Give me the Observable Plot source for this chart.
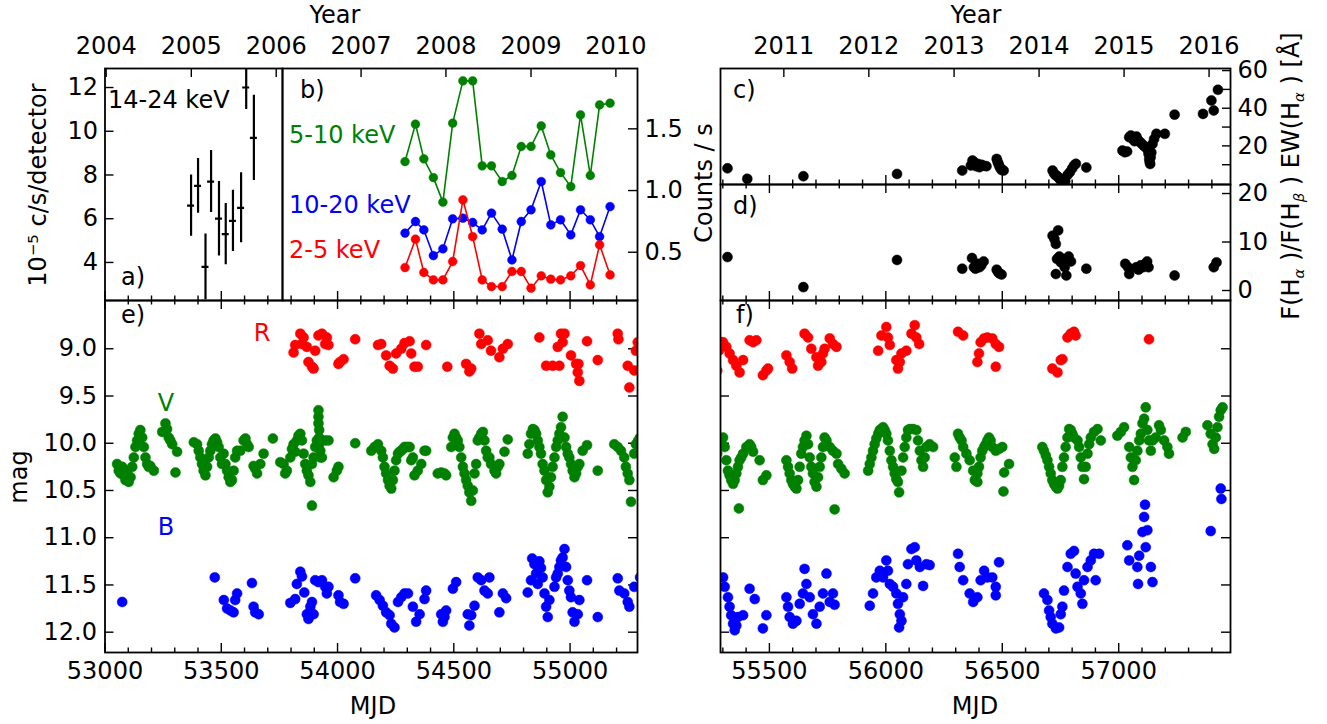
<!DOCTYPE html>
<html><head><meta charset="utf-8">
<script src="https://cdn.jsdelivr.net/npm/d3@7"></script>
<script src="https://cdn.jsdelivr.net/npm/@observablehq/plot@0.6"></script>
<style>
body{margin:0;background:#fff;}
#wrap{position:relative;width:1327px;height:724px;overflow:hidden;font-family:"DejaVu Sans";}
#wrap svg{position:absolute;left:0;top:0;}
.lbl{position:absolute;font-family:"DejaVu Sans";font-size:24px;white-space:nowrap;line-height:1;}
.lbl sub{font-size:0.62em;vertical-align:-0.28em;font-style:italic;}
.lbl sup{font-size:0.62em;vertical-align:0.55em;}
</style></head><body><div id="wrap"></div><script>
// ---------------- DATA ----------------
// panel a: 14-24 keV  [MJD, rate (1e-5 c/s/detector), error]
const hardX = [[53370,6.6,1.4],[53400,7.5,1.25],[53432,3.8,1.5],[53456,7.7,1.42],[53490,6.0,1.7],[53519,5.3,1.4],[53550,5.9,1.4],[53585,6.5,1.6],[53607,12.0,1.0],[53640,9.7,1.95]];
const hardXerrDays = 15;
// panel b: RXTE counts/s
const bMJD   = [54290,54335,54371,54412,54453,54495,54539,54581,54622,54662,54708,54750,54790,54832,54876,54917,54959,55003,55045,55087,55127,55172];
const b5_10  = [1.235,1.538,1.257,1.105,0.906,1.546,1.889,1.889,1.200,1.200,1.073,1.122,1.357,1.357,1.524,1.289,1.146,1.032,1.613,1.122,1.694,1.708];
const b10_20 = [0.655,0.749,0.681,0.473,0.528,0.771,0.776,0.741,0.681,0.817,0.687,0.438,0.749,0.844,1.073,0.722,0.763,0.641,0.844,0.763,0.627,0.870];
const b2_5   = [0.376,0.606,0.336,0.276,0.276,0.425,0.925,0.627,0.276,0.222,0.222,0.344,0.344,0.209,0.309,0.282,0.276,0.309,0.392,0.236,0.560,0.317];
const bXerrDays = 14, bYerr = 0.025;
// panel c: EW(Halpha)
const ewHa = [[55320,8.1],[55405,2.5],[55646,3.9],[56048,5.1],[56328,6.9],[56365,9.6],[56372,12.2],[56380,11.3],[56388,9.2],[56395,10.4],[56402,8.7],[56410,10.0],[56420,9.5],[56432,9.2],[56476,13.1],[56480,11.5],[56484,10.4],[56488,9.0],[56493,8.0],[56497,7.2],[56506,6.9],[56716,6.9],[56722,5.5],[56728,4.5],[56734,4.2],[56740,3.4],[56746,2.5],[56752,1.6],[56758,0.7],[56764,2.0],[56770,1.2],[56780,4.5],[56790,6.0],[56800,8.0],[56808,9.6],[56816,10.5],[56861,8.5],[57016,17.5],[57026,16.6],[57036,17.0],[57045,24.6],[57052,25.5],[57060,23.7],[57068,22.5],[57076,25.0],[57084,23.0],[57092,22.0],[57100,21.0],[57108,20.0],[57116,19.3],[57122,18.4],[57128,15.8],[57131,13.1],[57133,11.5],[57135,10.4],[57137,14.0],[57140,16.5],[57145,21.0],[57152,23.7],[57162,26.4],[57198,26.4],[57240,36.6],[57362,37.0],[57398,44.1],[57408,38.8],[57426,49.8]];
// panel d: F(Halpha)/F(Hbeta)
const balmerRatio = [[55320,6.9],[55646,0.7],[56048,6.3],[56328,4.5],[56370,6.7],[56378,4.8],[56385,4.5],[56394,5.5],[56402,4.8],[56410,5.2],[56420,6.0],[56476,4.3],[56482,3.8],[56488,3.5],[56497,3.3],[56716,11.3],[56724,10.6],[56730,9.6],[56740,12.4],[56735,6.5],[56730,3.4],[56745,7.0],[56752,5.8],[56760,6.5],[56768,4.8],[56775,3.1],[56785,7.0],[56795,6.0],[56861,4.5],[57028,5.5],[57040,4.8],[57045,3.4],[57075,4.8],[57085,4.3],[57095,5.2],[57105,4.8],[57115,5.5],[57122,6.0],[57128,4.8],[57240,3.1],[57408,4.8],[57420,5.8]];
// panels e/f: photometry [MJD, mag]
const magR = [[53811,9.04],[53818,8.96],[53840,8.84],[53847,8.95],[53854,8.88],[53868,8.98],[53875,9.14],[53890,9.19],[53897,9.21],[53904,9.02],[53918,8.86],[53933,8.84],[53947,8.95],[53954,8.88],[53961,8.96],[54004,9.16],[54011,9.14],[54026,9.11],[54076,8.90],
[54174,8.96],[54188,8.95],[54209,9.07],[54224,9.18],[54238,9.21],[54252,9.05],[54274,9.00],[54288,8.94],[54310,8.92],[54317,9.05],[54331,9.19],[54345,9.19],[54381,8.96],[54472,9.19],[54553,9.16],[54567,9.24],[54575,9.21],[54610,8.84],[54618,8.95],[54646,8.91],[54660,9.02],[54696,9.09],[54711,9.00],[54732,8.95],
[54868,8.88],[54897,9.18],[54925,9.18],[54954,9.18],[54947,8.98],[54961,8.84],[54976,8.84],[54968,8.93],[55004,9.07],[55026,9.16],[55033,9.25],[55040,9.34],[55036,9.16],[55073,8.92],[55119,9.12],[55205,8.84],[55208,8.90],[55255,9.41],[55248,9.18],[55276,9.23],[55283,9.02],[55291,8.93],
[55301,8.93],[55315,8.98],[55329,9.05],[55344,9.12],[55358,9.18],[55372,9.25],[55387,9.12],[55415,8.91],[55430,8.93],[55444,8.91],[55472,9.28],[55487,9.23],[55494,9.21],[55573,9.07],[55587,9.14],[55598,9.21],[55651,8.84],[55666,8.88],[55680,9.00],[55702,9.09],[55709,9.18],[55723,9.14],[55730,9.05],[55737,9.00],[55759,8.89],[55773,8.95],[55788,8.98],
[55967,9.02],[55981,8.86],[56002,8.77],[56009,8.88],[56017,8.96],[56045,9.12],[56052,9.21],[56060,9.14],[56067,9.05],[56088,9.02],[56110,8.84],[56124,8.75],[56131,8.88],[56143,8.95],
[56310,8.82],[56332,8.86],[56393,9.14],[56400,9.05],[56407,8.93],[56422,8.89],[56436,8.88],[56457,8.89],[56472,8.95],[56486,8.98],[56472,9.19],[56715,9.21],[56737,9.25],[56751,9.12],[56758,9.11],[56780,8.88],[56794,8.84],[56808,8.82],[56815,8.86],[57130,8.90]];
const magV = [[53052,10.22],[53059,10.29],[53067,10.32],[53074,10.25],[53081,10.34],[53088,10.39],[53095,10.29],[53102,10.41],[53110,10.36],[53117,10.25],[53124,10.15],[53131,10.04],[53138,9.97],[53145,9.90],[53152,9.86],[53160,9.94],[53167,10.04],[53174,10.15],[53181,10.22],[53188,10.25],[53195,10.24],[53210,10.29],
[53246,9.88],[53260,9.79],[53267,9.85],[53274,9.94],[53281,9.97],[53289,10.01],[53310,10.09],[53303,10.31],
[53382,9.99],[53396,10.01],[53403,10.08],[53410,10.15],[53417,10.22],[53424,10.29],[53432,10.34],[53439,10.25],[53446,10.15],[53453,10.08],[53460,10.01],[53467,9.97],[53475,9.95],[53482,9.99],[53489,10.04],[53496,10.15],[53503,10.22],[53510,10.11],[53518,10.22],[53525,10.29],[53532,10.36],[53539,10.41],[53546,10.39],[53553,10.29],[53560,10.15],[53568,10.08],[53582,10.08],[53596,9.97],[53604,9.95],[53611,10.01],[53618,10.04],[53639,10.24],[53646,10.27],[53654,10.32],[53682,10.11],[53668,10.22],[53722,9.95],
[53754,10.20],[53768,10.22],[53775,10.32],[53782,10.29],[53797,10.15],[53804,10.06],[53811,10.01],[53818,10.09],[53825,9.97],[53832,9.92],[53840,9.90],[53847,9.97],[53854,10.11],[53861,10.22],[53868,10.29],[53875,10.34],[53883,10.41],[53890,10.22],[53897,10.15],[53904,10.04],[53911,9.97],[53918,9.65],[53918,9.72],[53918,9.79],[53921,9.86],[53921,9.94],[53921,10.01],[53926,10.08],[53926,10.15],[53933,10.15],[53947,9.97],[53961,9.97],[53890,10.66],[53983,10.36],[53997,10.29],[54004,10.25],[54076,10.00],
[54145,10.08],[54159,10.04],[54174,10.01],[54188,10.08],[54195,10.15],[54202,10.25],[54209,10.32],[54217,10.39],[54224,10.45],[54231,10.48],[54238,10.39],[54245,10.29],[54252,10.18],[54260,10.11],[54267,10.09],[54274,10.08],[54281,10.06],[54288,10.04],[54295,10.04],[54303,10.04],[54310,10.04],[54317,10.18],[54324,10.15],[54331,10.34],[54345,10.29],[54360,10.22],[54374,10.08],[54381,10.08],[54431,10.32],[54446,10.31],[54460,10.32],[54467,10.34],
[54489,10.04],[54496,9.94],[54503,9.90],[54510,9.94],[54517,9.97],[54524,10.04],[54532,10.15],[54539,10.25],[54546,10.32],[54553,10.39],[54560,10.45],[54567,10.52],[54575,10.61],[54582,10.50],[54589,10.32],[54596,10.22],[54603,9.97],[54610,9.94],[54618,9.90],[54625,9.88],[54632,9.97],[54639,10.08],[54646,10.15],[54653,10.15],[54660,10.22],[54675,10.29],[54682,10.32],[54689,10.25],[54696,10.22],[54718,10.09],[54732,9.96],
[54818,10.11],[54825,10.01],[54832,9.90],[54840,9.85],[54847,9.86],[54854,9.90],[54861,9.97],[54868,10.04],[54875,10.11],[54882,10.22],[54890,10.29],[54897,10.39],[54904,10.52],[54911,10.46],[54918,10.36],[54925,10.25],[54933,10.15],[54940,10.04],[54947,9.97],[54954,9.90],[54961,9.83],[54968,9.72],[54976,9.94],[54983,10.04],[54990,10.11],[54997,10.15],[55004,10.22],[55011,10.29],[55019,10.36],[55026,10.32],[55033,10.25],[55040,10.22],[55054,10.08],[55073,10.02],[55119,10.29],
[55190,10.01],[55205,10.04],[55219,10.08],[55233,10.15],[55240,10.25],[55248,10.32],[55255,10.39],[55262,10.62],[55276,10.11],[55283,10.01],
[55293,9.97],[55301,9.94],[55308,10.04],[55315,10.18],[55322,10.29],[55329,10.34],[55336,10.39],[55344,10.43],[55351,10.39],[55358,10.32],[55365,10.25],[55372,10.18],[55379,10.15],[55387,10.11],[55401,10.04],[55415,10.01],[55422,10.04],[55430,10.09],[55458,10.18],[55472,10.39],[55487,10.34],[55369,10.69],
[55573,10.18],[55580,10.25],[55587,10.32],[55594,10.39],[55601,10.43],[55609,10.46],[55616,10.48],[55623,10.39],[55630,10.25],[55637,10.11],[55644,10.04],[55651,9.97],[55659,9.92],[55666,10.01],[55673,10.15],[55680,10.25],[55687,10.32],[55694,10.41],[55702,10.46],[55709,10.36],[55716,10.25],[55723,10.15],[55730,10.04],[55737,9.94],[55745,9.97],[55759,10.04],[55773,10.08],[55788,10.11],[55795,10.22],[55809,10.27],[55823,10.32],[55780,10.70],
[55924,10.29],[55931,10.22],[55938,10.15],[55945,10.08],[55952,10.01],[55959,9.95],[55967,9.90],[55974,9.86],[55981,9.85],[55988,9.83],[55995,9.86],[56002,9.90],[56009,9.97],[56017,10.08],[56024,10.18],[56031,10.25],[56038,10.32],[56045,10.38],[56052,10.41],[56057,10.52],[56067,10.29],[56074,10.15],[56081,10.04],[56088,9.94],[56095,9.86],[56103,9.85],[56117,9.85],[56131,9.86],[56138,9.97],[56146,10.08],[56153,10.18],[56160,10.25],[56167,10.15],[56174,10.04],[56188,10.01],[56203,10.04],
[56296,10.15],[56303,10.25],[56310,9.90],[56317,9.94],[56325,9.97],[56332,10.04],[56346,10.11],[56360,10.18],[56375,10.29],[56382,10.39],
[56393,10.32],[56400,10.25],[56407,10.15],[56414,10.08],[56422,10.04],[56429,10.01],[56436,9.97],[56443,9.94],[56450,9.97],[56457,10.04],[56472,10.08],[56486,10.06],[56500,10.04],[56508,10.31],[56529,10.22],[56505,10.51],[56393,10.41],
[56672,10.04],[56679,10.08],[56687,10.13],[56694,10.18],[56701,10.25],[56708,10.32],[56715,10.39],[56722,10.43],[56730,10.46],[56737,10.48],[56744,10.45],[56751,10.39],[56758,10.25],[56765,10.15],[56772,10.04],[56780,9.94],[56787,9.85],[56794,9.86],[56801,9.90],[56808,9.94],[56823,9.97],[56830,10.04],[56837,10.15],[56844,10.25],[56851,10.38],[56858,10.25],[56866,10.11],[56873,10.01],[56880,9.94],[56894,9.88],[56909,9.85],[56923,9.97],
[56994,9.92],[57009,9.88],[57023,9.83],[57045,10.04],[57052,10.15],[57059,10.25],[57066,10.39],[57073,10.18],[57080,10.08],[57088,9.97],[57095,9.90],[57102,9.79],[57109,9.74],[57116,9.62],[57123,9.86],[57130,9.97],[57138,10.08],[57145,9.97],[57159,9.94],[57173,9.81],[57181,9.86],[57195,9.97],[57209,10.04],[57216,10.11],[57274,9.94],[57288,9.88],[57381,9.81],[57395,9.90],[57403,10.01],[57410,10.06],[57417,9.94],[57424,9.83],[57431,9.72],[57438,9.65],[57446,9.62]];
const magB = [[53074,11.68],[53472,11.42],[53511,11.66],[53525,11.75],[53539,11.77],[53553,11.79],[53560,11.66],[53568,11.59],[53632,11.48],[53639,11.73],[53646,11.79],[53661,11.81],
[53797,11.69],[53818,11.65],[53825,11.49],[53840,11.36],[53847,11.41],[53857,11.58],[53868,11.81],[53875,11.86],[53883,11.73],[53890,11.68],[53897,11.81],[53904,11.45],[53918,11.47],[53933,11.45],[53947,11.52],[53954,11.59],[53961,11.52],[54004,11.61],[54011,11.68],[54026,11.70],[54076,11.43],
[54166,11.61],[54181,11.66],[54195,11.72],[54209,11.79],[54224,11.82],[54231,11.91],[54245,11.95],[54260,11.68],[54274,11.63],[54288,11.59],[54303,11.59],[54324,11.73],[54338,11.89],[54353,11.81],[54374,11.65],[54381,11.56],[54446,11.81],[54453,11.89],[54460,11.84],[54467,11.77],[54496,11.54],[54510,11.47],[54560,11.81],[54575,11.82],[54567,11.93],[54589,11.72],[54603,11.42],[54618,11.45],[54632,11.56],[54646,11.59],[54653,11.42],[54696,11.79],[54711,11.59],[54725,11.64],
[54818,11.58],[54832,11.45],[54837,11.22],[54847,11.28],[54854,11.38],[54861,11.49],[54868,11.25],[54875,11.32],[54882,11.42],[54890,11.59],[54897,11.73],[54904,11.84],[54911,11.66],[54933,11.52],[54940,11.42],[54947,11.38],[54954,11.31],[54961,11.24],[54968,11.21],[54976,11.12],[54983,11.31],[54990,11.45],[54997,11.56],[55004,11.63],[55011,11.79],[55019,11.89],[55033,11.81],[55040,11.66],[55073,11.45],[55119,11.84],
[55205,11.43],[55212,11.56],[55233,11.59],[55248,11.68],[55255,11.73],[55276,11.52],
[55301,11.42],[55308,11.52],[55322,11.63],[55329,11.73],[55336,11.82],[55344,11.91],[55351,11.98],[55358,11.93],[55365,11.84],[55387,11.82],[55415,11.54],[55437,11.65],[55472,11.96],[55487,11.82],
[55573,11.63],[55580,11.73],[55587,11.84],[55601,11.91],[55616,11.88],[55630,11.70],[55644,11.59],[55659,11.49],[55651,11.33],[55673,11.63],[55687,11.81],[55702,11.91],[55716,11.73],[55730,11.59],[55745,11.38],[55759,11.68],[55773,11.59],[55780,11.71],
[55931,11.72],[55945,11.59],[55959,11.42],[55974,11.35],[55988,11.42],[56002,11.24],[56009,11.35],[56017,11.49],[56031,11.52],[56045,11.59],[56052,11.70],[56060,11.81],[56067,11.88],[56057,11.95],[56074,11.63],[56088,11.49],[56095,11.28],[56110,11.12],[56124,11.10],[56131,11.24],[56146,11.31],[56160,11.51],[56174,11.28],[56188,11.29],
[56310,11.17],[56317,11.31],[56332,11.45],[56360,11.59],[56375,11.68],
[56393,11.63],[56407,11.45],[56422,11.35],[56436,11.42],[56457,11.42],[56472,11.52],[56486,11.26],[56472,11.61],
[56679,11.59],[56694,11.66],[56701,11.77],[56708,11.84],[56715,11.91],[56730,11.96],[56744,11.95],[56751,11.81],[56758,11.73],[56765,11.56],[56780,11.31],[56794,11.17],[56808,11.14],[56815,11.38],[56823,11.52],[56837,11.59],[56844,11.70],[56851,11.45],[56866,11.31],[56880,11.24],[56894,11.17],[56916,11.17],[56901,11.45],
[57037,11.08],[57045,11.24],[57080,11.31],[57088,11.19],[57083,11.49],[57102,10.94],[57109,10.78],[57113,10.65],[57123,10.92],[57116,11.10],[57138,11.31],[57145,11.47],
[57395,10.93],[57438,10.48],[57441,10.59]];
// ticks
const mjdMajor = [53000,53500,54000,54500,55000,55500,56000,56500,57000];
const mjdMinor = d3.range(53000, 57500, 100);
const yearLabels = [2004,2005,2006,2007,2008,2009,2010,2011,2012,2013,2014,2015,2016];
const yearMJD    = [53005,53371,53736,54101,54466,54832,55197,55562,55927,56293,56658,57023,57388];
const magTicks = [9.0,9.5,10.0,10.5,11.0,11.5,12.0];
const aTicks = [4,6,8,10,12];
const bTicks = [0.5,1.0,1.5];
const cTicks = [10,20,30,40,50,60], cLabels = [20,40,60];
const dTicks = [0,10,20];

// ---------------- LAYOUT ----------------
const W = 1327, H = 724, FONT = "DejaVu Sans";
const RED = "#ff0000", GREEN = "#008000", BLUE = "#0000ff";
const GEO = {
  a: {x0:104.5, x1:282, y0:68, y1:300, xd:[53000,53763], yd:[2.26,12.87]},
  b: {x0:282, x1:637, y0:68, y1:300, xd:[53763,55290], yd:[0.109,1.989]},
  c: {x0:720, x1:1230, y0:68, y1:184, xd:[55290,57480], yd:[-0.5,61.1]},
  d: {x0:720, x1:1230, y0:184, y1:300, xd:[55290,57480], yd:[-2.06,21.86]},
  e: {x0:104.5, x1:637, y0:300, y1:652, xd:[53000,55290], yd:[8.489,12.215], rev:true},
  f: {x0:720, x1:1230, y0:300, y1:652, xd:[55290,57480], yd:[8.489,12.215], rev:true}
};
const wrap = document.getElementById("wrap");
const yearOf = new Map(yearMJD.map((m, i) => [m, yearLabels[i]]));
const inX = (g, v) => v >= g.xd[0] && v <= g.xd[1];

function xTicks(g, values, len, side) {
  const h = g.y1 - g.y0, vals = values.filter(v => inX(g, v));
  return Plot.ruleX(vals, side === "bottom" ? {insetTop: h - len, stroke: "black", strokeWidth: 1.4}
                                             : {insetBottom: h - len, stroke: "black", strokeWidth: 1.4});
}
function yTicks(g, values, len, side) {
  const w = g.x1 - g.x0;
  return Plot.ruleY(values, side === "left" ? {insetRight: w - len, stroke: "black", strokeWidth: 1.4}
                                             : {insetLeft: w - len, stroke: "black", strokeWidth: 1.4});
}
function mjdTicks(g, sides) {
  const out = [];
  for (const s of sides) {
    out.push(xTicks(g, mjdMinor.filter(v => !mjdMajor.includes(v)), 4.5, s));
    out.push(xTicks(g, mjdMajor, 9, s));
  }
  return out;
}
function yearAxis(g) {
  const vals = yearMJD.filter(v => inX(g, v));
  return [xTicks(g, vals, 9, "top"),
          Plot.axisX(vals, {anchor: "top", tickSize: 0, tickPadding: 15, tickFormat: d => String(yearOf.get(d)), label: null})];
}
function mjdLabels(g) {
  return Plot.axisX(mjdMajor.filter(v => inX(g, v)), {anchor: "bottom", tickSize: 0, tickPadding: 9, tickFormat: d => String(d), label: null});
}
function panel(g, marks) {
  const svg = Plot.plot({
    width: W, height: H,
    marginLeft: g.x0, marginRight: W - g.x1, marginTop: g.y0, marginBottom: H - g.y1,
    x: {domain: g.xd, axis: null},
    y: {domain: g.yd, reverse: !!g.rev, axis: null},
    style: {background: "transparent", fontFamily: FONT, fontSize: "24px", color: "black", overflow: "visible"},
    marks: [...marks, Plot.frame({stroke: "black", strokeWidth: 1.8})]
  });
  wrap.appendChild(svg);
}
const fmt1 = d3.format(".1f");
const dotOpts = (fill) => ({x: d => d[0], y: d => d[1], r: 5, fill, stroke: fill, strokeWidth: 0.5, clip: true});

// ---- panel a
panel(GEO.a, [
  ...mjdTicks(GEO.a, ["bottom"]), ...yearAxis(GEO.a),
  yTicks(GEO.a, aTicks, 9, "left"),
  Plot.axisY(aTicks, {anchor: "left", tickSize: 0, tickPadding: 7, label: null}),
  Plot.ruleX(hardX, {x: d => d[0], y1: d => d[1] - d[2], y2: d => d[1] + d[2], stroke: "black", strokeWidth: 2.2, clip: true}),
  Plot.ruleY(hardX, {y: d => d[1], x1: d => d[0] - hardXerrDays, x2: d => d[0] + hardXerrDays, stroke: "black", strokeWidth: 2.2, clip: true})
]);
// ---- panel b
const bSeries = [[b5_10, GREEN], [b10_20, BLUE], [b2_5, RED]];
const bMarks = [];
for (const [vals, col] of bSeries) {
  const rows = bMJD.map((m, i) => [m, vals[i]]);
  bMarks.push(Plot.line(rows, {x: d => d[0], y: d => d[1], stroke: col, strokeWidth: 1.6, clip: true}));
  bMarks.push(Plot.ruleY(rows, {y: d => d[1], x1: d => d[0] - bXerrDays, x2: d => d[0] + bXerrDays, stroke: col, strokeWidth: 1.6}));
  bMarks.push(Plot.ruleX(rows, {x: d => d[0], y1: d => d[1] - bYerr, y2: d => d[1] + bYerr, stroke: col, strokeWidth: 1.6}));
  bMarks.push(Plot.dot(rows, {...dotOpts(col), r: 4.4}));
}
panel(GEO.b, [
  ...mjdTicks(GEO.b, ["bottom"]), ...yearAxis(GEO.b),
  yTicks(GEO.b, bTicks, 9, "right"),
  Plot.axisY(bTicks, {anchor: "right", tickSize: 0, tickPadding: 7, tickFormat: fmt1, label: null}),
  ...bMarks
]);
// ---- panel c
panel(GEO.c, [
  ...mjdTicks(GEO.c, ["bottom"]), ...yearAxis(GEO.c),
  yTicks(GEO.c, cTicks, 8, "right"),
  Plot.axisY(cLabels, {anchor: "right", tickSize: 0, tickPadding: 7, label: null}),
  Plot.dot(ewHa, dotOpts("black"))
]);
// ---- panel d
panel(GEO.d, [
  ...mjdTicks(GEO.d, ["bottom", "top"]),
  yTicks(GEO.d, dTicks, 8, "right"),
  Plot.axisY(dTicks, {anchor: "right", tickSize: 0, tickPadding: 7, label: null}),
  Plot.dot(balmerRatio, dotOpts("black"))
]);
// ---- panels e, f
for (const key of ["e", "f"]) {
  const g = GEO[key];
  const marks = [
    ...mjdTicks(g, ["bottom", "top"]),
    yTicks(g, magTicks, 9, "left"), yTicks(g, magTicks, 9, "right"),
    mjdLabels(g),
    Plot.dot(magR, dotOpts(RED)),
    Plot.dot(magV, dotOpts(GREEN)),
    Plot.dot(magB, dotOpts(BLUE))
  ];
  if (key === "e") marks.push(Plot.axisY(magTicks, {anchor: "left", tickSize: 0, tickPadding: 8, tickFormat: fmt1, label: null}));
  panel(g, marks);
}

// ---------------- TEXT ----------------
function note(html, x, y, opts = {}) {
  const d = document.createElement("div");
  d.className = "lbl";
  d.innerHTML = html;
  d.style.left = x + "px"; d.style.top = y + "px";
  d.style.color = opts.color || "black";
  if (opts.size) d.style.fontSize = opts.size + "px";
  const tx = opts.anchor === "start" ? "0" : "-50%";
  d.style.transform = `translate(${tx},-50%)` + (opts.rotate ? ` rotate(${opts.rotate}deg)` : "");
  wrap.appendChild(d);
}
note("Year", 335, 15); note("Year", 976, 15);
note("MJD", 373, 706); note("MJD", 975, 706);
note("mag", 19, 477, {rotate: -90});
note("Counts / s", 704, 183, {rotate: -90});
note("10<sup>−5</sup>  c/s/detector", 38, 185, {rotate: -90});
note("F(H<sub>α</sub> )/F(H<sub>β</sub> ) EW(H<sub>α</sub> ) [Å]", 1293, 176, {rotate: -90});
note("14-24 keV", 108, 100, {anchor: "start"});
note("a)", 121, 277, {anchor: "start"});
note("b)", 300, 90, {anchor: "start"});
note("c)", 733, 90, {anchor: "start"});
note("d)", 733, 206, {anchor: "start"});
note("e)", 121, 315, {anchor: "start"});
note("f)", 736, 315, {anchor: "start"});
note("5-10 keV", 289, 135, {anchor: "start", color: GREEN});
note("10-20 keV", 289, 205, {anchor: "start", color: BLUE});
note("2-5 keV", 289, 250, {anchor: "start", color: RED});
note("R", 262, 333, {color: RED});
note("V", 166, 403, {color: GREEN});
note("B", 166, 527, {color: BLUE});
</script></body></html>
